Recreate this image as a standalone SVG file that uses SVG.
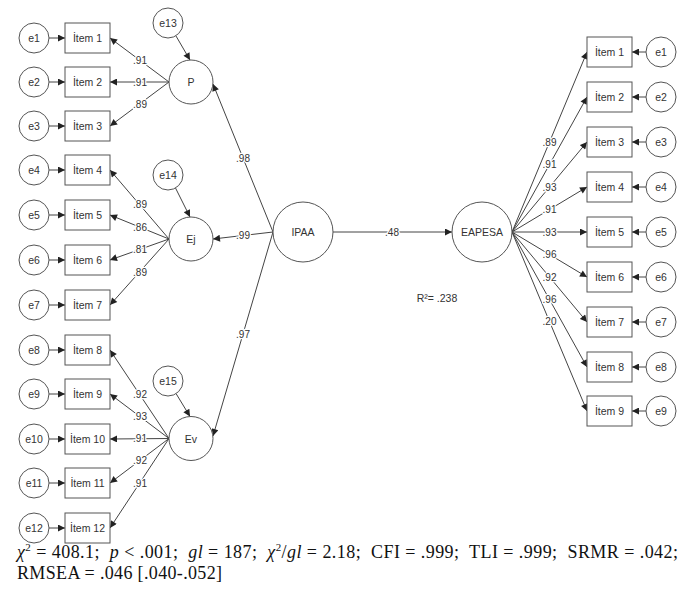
<svg xmlns="http://www.w3.org/2000/svg" width="698" height="612" viewBox="0 0 698 612">
<style>
.bg{fill:#fff}
.c{fill:#fff;stroke:#555;stroke-width:1}
.b{fill:#fff;stroke:#555;stroke-width:1}
.l{stroke:#444;stroke-width:1;fill:none;marker-end:url(#ah)}
.t{font-family:"Liberation Sans",Arial,sans-serif;font-size:10.5px;fill:#333;text-anchor:middle}
.w{font-family:"Liberation Sans",Arial,sans-serif;font-size:10px;fill:#333;text-anchor:middle;stroke:#fff;stroke-width:2.5;paint-order:stroke;stroke-linejoin:round}
.f{font-family:"Liberation Serif","Times New Roman",serif;font-size:18px;fill:#111}
.i{font-style:italic}
</style>
<defs>
<marker id="ah" viewBox="0 0 10 10" refX="10" refY="5" markerUnits="userSpaceOnUse" markerWidth="9" markerHeight="7" orient="auto">
<path d="M0,0 L10,5 L0,10 z" fill="#222"/>
</marker>
</defs>
<rect class="bg" x="0" y="0" width="698" height="612"/>

<g id="connectors">
<line class="l" x1="49" y1="38" x2="65" y2="38"/>
<line class="l" x1="49" y1="82" x2="65" y2="82"/>
<line class="l" x1="49" y1="126" x2="65" y2="126"/>
<line class="l" x1="49" y1="170" x2="65" y2="170"/>
<line class="l" x1="49" y1="215" x2="65" y2="215"/>
<line class="l" x1="49" y1="260" x2="65" y2="260"/>
<line class="l" x1="49" y1="305" x2="65" y2="305"/>
<line class="l" x1="49" y1="350" x2="65" y2="350"/>
<line class="l" x1="49" y1="394" x2="65" y2="394"/>
<line class="l" x1="49" y1="439" x2="65" y2="439"/>
<line class="l" x1="49" y1="483" x2="65" y2="483"/>
<line class="l" x1="49" y1="528" x2="65" y2="528"/>
<line class="l" x1="169" y1="82" x2="110" y2="38"/>
<line class="l" x1="169" y1="82" x2="110" y2="82"/>
<line class="l" x1="169" y1="82" x2="110" y2="126"/>
<line class="l" x1="169" y1="239" x2="110" y2="170"/>
<line class="l" x1="169" y1="239" x2="110" y2="215"/>
<line class="l" x1="169" y1="239" x2="110" y2="260"/>
<line class="l" x1="169" y1="239" x2="110" y2="305"/>
<line class="l" x1="169" y1="438.5" x2="110" y2="350"/>
<line class="l" x1="169" y1="438.5" x2="110" y2="394"/>
<line class="l" x1="169" y1="438.5" x2="110" y2="439"/>
<line class="l" x1="169" y1="438.5" x2="110" y2="483"/>
<line class="l" x1="169" y1="438.5" x2="110" y2="528"/>
<line class="l" x1="176" y1="36" x2="190" y2="60"/>
<line class="l" x1="175.5" y1="188" x2="190" y2="217"/>
<line class="l" x1="176" y1="393.5" x2="190" y2="416.5"/>
<line class="l" x1="273" y1="232" x2="213" y2="84"/>
<line class="l" x1="273" y1="232" x2="213" y2="239"/>
<line class="l" x1="273" y1="232" x2="213" y2="436"/>
<line class="l" x1="333" y1="232" x2="452" y2="232"/>
<line class="l" x1="512" y1="232" x2="587" y2="52"/>
<line class="l" x1="512" y1="232" x2="587" y2="97"/>
<line class="l" x1="512" y1="232" x2="587" y2="142"/>
<line class="l" x1="512" y1="232" x2="587" y2="187"/>
<line class="l" x1="512" y1="232" x2="587" y2="232"/>
<line class="l" x1="512" y1="232" x2="587" y2="277"/>
<line class="l" x1="512" y1="232" x2="587" y2="322"/>
<line class="l" x1="512" y1="232" x2="587" y2="367"/>
<line class="l" x1="512" y1="232" x2="587" y2="411"/>
<line class="l" x1="646" y1="52" x2="632" y2="52"/>
<line class="l" x1="646" y1="97" x2="632" y2="97"/>
<line class="l" x1="646" y1="142" x2="632" y2="142"/>
<line class="l" x1="646" y1="187" x2="632" y2="187"/>
<line class="l" x1="646" y1="232" x2="632" y2="232"/>
<line class="l" x1="646" y1="277" x2="632" y2="277"/>
<line class="l" x1="646" y1="322" x2="632" y2="322"/>
<line class="l" x1="646" y1="367" x2="632" y2="367"/>
<line class="l" x1="646" y1="411" x2="632" y2="411"/>
</g>

<g id="connector-labels">
<text class="w" x="140" y="63.5">.91</text>
<text class="w" x="140" y="85.5">.91</text>
<text class="w" x="140" y="107.5">.89</text>
<text class="w" x="140" y="208">.89</text>
<text class="w" x="140" y="230.5">.86</text>
<text class="w" x="140" y="253">.81</text>
<text class="w" x="140" y="275.5">.89</text>
<text class="w" x="140" y="397.5">.92</text>
<text class="w" x="140" y="420">.93</text>
<text class="w" x="140" y="442">.91</text>
<text class="w" x="140" y="464">.92</text>
<text class="w" x="140" y="486.5">.91</text>
<text class="w" x="243" y="161.5">.98</text>
<text class="w" x="243" y="239">.99</text>
<text class="w" x="243" y="337.5">.97</text>
<text class="w" x="392" y="235.5">.48</text>
<text class="w" x="549.5" y="145.5">.89</text>
<text class="w" x="549.5" y="168">.91</text>
<text class="w" x="549.5" y="190.5">.93</text>
<text class="w" x="549.5" y="213">.91</text>
<text class="w" x="549.5" y="235.5">.93</text>
<text class="w" x="549.5" y="258">.96</text>
<text class="w" x="549.5" y="280.5">.92</text>
<text class="w" x="549.5" y="303">.96</text>
<text class="w" x="549.5" y="325">.20</text>
</g>

<g id="L_e1"><circle class="c" cx="34" cy="38" r="15"/><text class="t" x="34" y="41.5">e1</text></g>
<g id="L_e2"><circle class="c" cx="34" cy="82" r="15"/><text class="t" x="34" y="85.5">e2</text></g>
<g id="L_e3"><circle class="c" cx="34" cy="126" r="15"/><text class="t" x="34" y="129.5">e3</text></g>
<g id="L_e4"><circle class="c" cx="34" cy="170" r="15"/><text class="t" x="34" y="173.5">e4</text></g>
<g id="L_e5"><circle class="c" cx="34" cy="215" r="15"/><text class="t" x="34" y="218.5">e5</text></g>
<g id="L_e6"><circle class="c" cx="34" cy="260" r="15"/><text class="t" x="34" y="263.5">e6</text></g>
<g id="L_e7"><circle class="c" cx="34" cy="305" r="15"/><text class="t" x="34" y="308.5">e7</text></g>
<g id="L_e8"><circle class="c" cx="34" cy="350" r="15"/><text class="t" x="34" y="353.5">e8</text></g>
<g id="L_e9"><circle class="c" cx="34" cy="394" r="15"/><text class="t" x="34" y="397.5">e9</text></g>
<g id="L_e10"><circle class="c" cx="34" cy="439" r="15"/><text class="t" x="34" y="442.5">e10</text></g>
<g id="L_e11"><circle class="c" cx="34" cy="483" r="15"/><text class="t" x="34" y="486.5">e11</text></g>
<g id="L_e12"><circle class="c" cx="34" cy="528" r="15"/><text class="t" x="34" y="531.5">e12</text></g>

<g id="L_item1"><rect class="b" x="65" y="23" width="45" height="30"/><text class="t" x="87.5" y="41.5">İtem 1</text></g>
<g id="L_item2"><rect class="b" x="65" y="67" width="45" height="30"/><text class="t" x="87.5" y="85.5">İtem 2</text></g>
<g id="L_item3"><rect class="b" x="65" y="111" width="45" height="30"/><text class="t" x="87.5" y="129.5">İtem 3</text></g>
<g id="L_item4"><rect class="b" x="65" y="155" width="45" height="30"/><text class="t" x="87.5" y="173.5">İtem 4</text></g>
<g id="L_item5"><rect class="b" x="65" y="200" width="45" height="30"/><text class="t" x="87.5" y="218.5">İtem 5</text></g>
<g id="L_item6"><rect class="b" x="65" y="245" width="45" height="30"/><text class="t" x="87.5" y="263.5">İtem 6</text></g>
<g id="L_item7"><rect class="b" x="65" y="290" width="45" height="30"/><text class="t" x="87.5" y="308.5">İtem 7</text></g>
<g id="L_item8"><rect class="b" x="65" y="335" width="45" height="30"/><text class="t" x="87.5" y="353.5">İtem 8</text></g>
<g id="L_item9"><rect class="b" x="65" y="379" width="45" height="30"/><text class="t" x="87.5" y="397.5">İtem 9</text></g>
<g id="L_item10"><rect class="b" x="65" y="424" width="45" height="30"/><text class="t" x="87.5" y="442.5">İtem 10</text></g>
<g id="L_item11"><rect class="b" x="65" y="468" width="45" height="30"/><text class="t" x="87.5" y="486.5">İtem 11</text></g>
<g id="L_item12"><rect class="b" x="65" y="513" width="45" height="30"/><text class="t" x="87.5" y="531.5">İtem 12</text></g>

<g id="P"><circle class="c" cx="191" cy="82" r="22"/><text class="t" x="191" y="86">P</text></g>
<g id="Ej"><circle class="c" cx="191" cy="239" r="22"/><text class="t" x="191" y="243">Ej</text></g>
<g id="Ev"><circle class="c" cx="191" cy="438.5" r="22"/><text class="t" x="191" y="442.5">Ev</text></g>
<g id="e13"><circle class="c" cx="168" cy="23" r="15"/><text class="t" x="168" y="26.5">e13</text></g>
<g id="e14"><circle class="c" cx="168" cy="175" r="15"/><text class="t" x="168" y="178.5">e14</text></g>
<g id="e15"><circle class="c" cx="168" cy="381" r="15"/><text class="t" x="168" y="384.5">e15</text></g>

<g id="IPAA"><circle class="c" cx="303" cy="232" r="30"/><text class="t" x="303" y="236">IPAA</text></g>
<g id="EAPESA"><circle class="c" cx="482" cy="232" r="30"/><text class="t" x="482" y="236">EAPESA</text></g>
<g id="r2"><text class="t" x="437" y="301.5">R²= .238</text></g>

<g id="R_item1"><rect class="b" x="587" y="37" width="45" height="30"/><text class="t" x="609.5" y="55.5">İtem 1</text></g>
<g id="R_item2"><rect class="b" x="587" y="82" width="45" height="30"/><text class="t" x="609.5" y="100.5">İtem 2</text></g>
<g id="R_item3"><rect class="b" x="587" y="127" width="45" height="30"/><text class="t" x="609.5" y="145.5">İtem 3</text></g>
<g id="R_item4"><rect class="b" x="587" y="172" width="45" height="30"/><text class="t" x="609.5" y="190.5">İtem 4</text></g>
<g id="R_item5"><rect class="b" x="587" y="217" width="45" height="30"/><text class="t" x="609.5" y="235.5">İtem 5</text></g>
<g id="R_item6"><rect class="b" x="587" y="262" width="45" height="30"/><text class="t" x="609.5" y="280.5">İtem 6</text></g>
<g id="R_item7"><rect class="b" x="587" y="307" width="45" height="30"/><text class="t" x="609.5" y="325.5">İtem 7</text></g>
<g id="R_item8"><rect class="b" x="587" y="352" width="45" height="30"/><text class="t" x="609.5" y="370.5">İtem 8</text></g>
<g id="R_item9"><rect class="b" x="587" y="396" width="45" height="30"/><text class="t" x="609.5" y="414.5">İtem 9</text></g>

<g id="R_e1"><circle class="c" cx="661" cy="52" r="15"/><text class="t" x="661" y="55.5">e1</text></g>
<g id="R_e2"><circle class="c" cx="661" cy="97" r="15"/><text class="t" x="661" y="100.5">e2</text></g>
<g id="R_e3"><circle class="c" cx="661" cy="142" r="15"/><text class="t" x="661" y="145.5">e3</text></g>
<g id="R_e4"><circle class="c" cx="661" cy="187" r="15"/><text class="t" x="661" y="190.5">e4</text></g>
<g id="R_e5"><circle class="c" cx="661" cy="232" r="15"/><text class="t" x="661" y="235.5">e5</text></g>
<g id="R_e6"><circle class="c" cx="661" cy="277" r="15"/><text class="t" x="661" y="280.5">e6</text></g>
<g id="R_e7"><circle class="c" cx="661" cy="322" r="15"/><text class="t" x="661" y="325.5">e7</text></g>
<g id="R_e8"><circle class="c" cx="661" cy="367" r="15"/><text class="t" x="661" y="370.5">e8</text></g>
<g id="R_e9"><circle class="c" cx="661" cy="411" r="15"/><text class="t" x="661" y="414.5">e9</text></g>

<g id="fit-indices">
<text class="f" x="17" y="558" xml:space="preserve" textLength="661" lengthAdjust="spacing"><tspan class="i">χ</tspan><tspan font-size="11" dy="-7">2</tspan><tspan dy="7"> = 408.1;  </tspan><tspan class="i">p</tspan> &lt; .001;  <tspan class="i">gl</tspan> = 187;  <tspan class="i">χ</tspan><tspan font-size="11" dy="-7">2</tspan><tspan dy="7">/</tspan><tspan class="i">gl</tspan> = 2.18;  CFI = .999;  TLI = .999;  SRMR = .042;</text>
<text class="f" x="17" y="579" textLength="205" lengthAdjust="spacing">RMSEA = .046 [.040-.052]</text>
</g>
</svg>
